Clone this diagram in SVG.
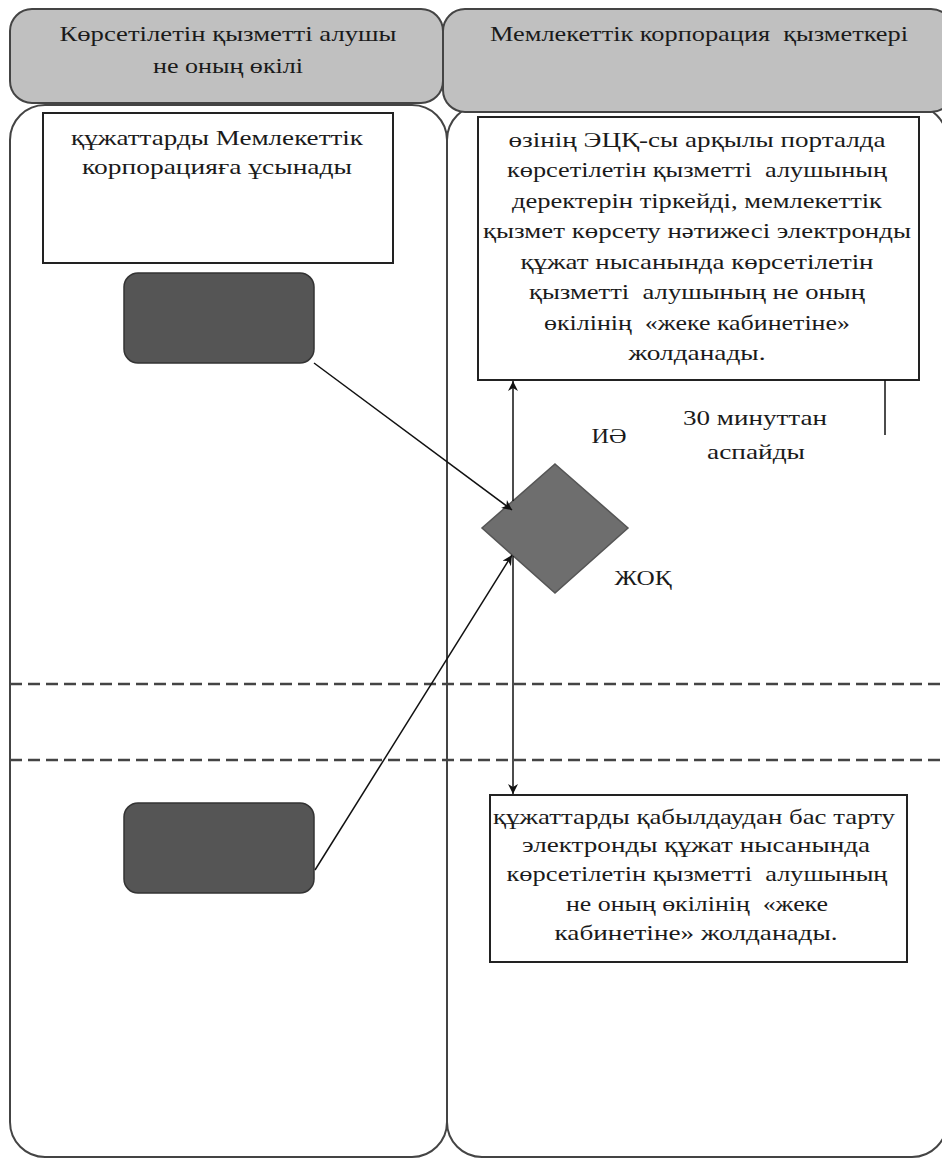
<svg xmlns="http://www.w3.org/2000/svg" width="942" height="1159" viewBox="0 0 942 1159">
<style>
text{font-family:"Liberation Serif","Times New Roman",serif;font-size:22px;fill:#1a1a1a;text-anchor:middle;white-space:pre}
.hdr{fill:#c0c0c0;stroke:#444;stroke-width:2}
.lane{fill:#fff;stroke:#444;stroke-width:2}
.box{fill:#fff;stroke:#222;stroke-width:2}
.dark{fill:#555;stroke:#333;stroke-width:1.5}
.con{stroke:#111;stroke-width:1.5;fill:none}
.dash{stroke:#444;stroke-width:2.5;stroke-dasharray:12 6}
</style>
<defs>
<marker id="ah" viewBox="0 0 10 10" refX="10" refY="5" markerWidth="12" markerHeight="10" orient="auto-start-reverse" markerUnits="userSpaceOnUse">
<path d="M0,0 L10,5 L0,10 L3,5 z" fill="#111"/>
</marker>
</defs>
<g id="lane-left">
<rect class="lane" x="10" y="105" width="437" height="1052" rx="35"/>
</g>
<g id="lane-right">
<rect class="lane" x="447" y="105" width="500" height="1052" rx="35"/>
</g>
<g id="header-left">
<rect class="hdr" x="10" y="9" width="433" height="94" rx="22"/>
<text x="228" y="41" textLength="337" lengthAdjust="spacingAndGlyphs">Көрсетілетін қызметті алушы</text>
<text x="228" y="73" textLength="150" lengthAdjust="spacingAndGlyphs">не оның өкілі</text>
</g>
<g id="header-right">
<rect class="hdr" x="443" y="9" width="510" height="103" rx="22"/>
<text x="699" y="41" textLength="418" lengthAdjust="spacingAndGlyphs" xml:space="preserve">Мемлекеттік корпорация  қызметкері</text>
</g>
<g id="dividers">
<line class="dash" x1="10" y1="684" x2="942" y2="684"/>
<line class="dash" x1="10" y1="760" x2="942" y2="760"/>
</g>
<g id="node-submit">
<rect class="box" x="43" y="113" width="350" height="150"/>
<text x="217" y="145" textLength="292" lengthAdjust="spacingAndGlyphs">құжаттарды Мемлекеттік</text>
<text x="217" y="174" textLength="270" lengthAdjust="spacingAndGlyphs">корпорацияға ұсынады</text>
</g>
<g id="node-start1">
<rect class="dark" x="124" y="273" width="190" height="90" rx="14"/>
</g>
<g id="node-start2">
<rect class="dark" x="124" y="803" width="190" height="90" rx="14"/>
</g>
<g id="node-register">
<rect class="box" x="478" y="117" width="441" height="263"/>
<text x="697" y="147" textLength="377" lengthAdjust="spacingAndGlyphs">өзінің ЭЦҚ-сы арқылы порталда</text>
<text x="697" y="177" textLength="380" lengthAdjust="spacingAndGlyphs" xml:space="preserve">көрсетілетін қызметті  алушының</text>
<text x="697" y="208" textLength="370" lengthAdjust="spacingAndGlyphs">деректерін тіркейді, мемлекеттік</text>
<text x="697" y="238" textLength="428" lengthAdjust="spacingAndGlyphs">қызмет көрсету нәтижесі электронды</text>
<text x="697" y="269" textLength="353" lengthAdjust="spacingAndGlyphs">құжат нысанында көрсетілетін</text>
<text x="697" y="299" textLength="336" lengthAdjust="spacingAndGlyphs" xml:space="preserve">қызметті  алушының не оның</text>
<text x="697" y="330" textLength="306" lengthAdjust="spacingAndGlyphs" xml:space="preserve">өкілінің  «жеке кабинетіне»</text>
<text x="697" y="360" textLength="137" lengthAdjust="spacingAndGlyphs">жолданады.</text>
</g>
<g id="node-decision">
<polygon points="555,464 628,528 555,593 482,528" fill="#6e6e6e" stroke="#555" stroke-width="1.5"/>
</g>
<g id="node-reject">
<rect class="box" x="490" y="795" width="417" height="167"/>
<text x="694" y="824" textLength="402" lengthAdjust="spacingAndGlyphs">құжаттарды қабылдаудан бас тарту</text>
<text x="696" y="852" textLength="348" lengthAdjust="spacingAndGlyphs">электронды құжат нысанында</text>
<text x="697" y="881" textLength="381" lengthAdjust="spacingAndGlyphs" xml:space="preserve">көрсетілетін қызметті  алушының</text>
<text x="697" y="911" textLength="262" lengthAdjust="spacingAndGlyphs" xml:space="preserve">не оның өкілінің  «жеке</text>
<text x="696" y="940" textLength="283" lengthAdjust="spacingAndGlyphs">кабинетіне» жолданады.</text>
</g>
<g id="connectors">
<line class="con" x1="513" y1="501" x2="513" y2="381" marker-end="url(#ah)"/>
<line class="con" x1="513" y1="556" x2="513" y2="794" marker-end="url(#ah)"/>
<line class="con" x1="314" y1="363" x2="512" y2="510" marker-end="url(#ah)"/>
<line class="con" x1="315" y1="870" x2="512" y2="555" marker-end="url(#ah)"/>
<line class="con" x1="885" y1="380" x2="885" y2="435"/>
</g>
<g id="labels">
<text x="609" y="443" textLength="35" lengthAdjust="spacingAndGlyphs">ИӘ</text>
<text x="755" y="425" textLength="144" lengthAdjust="spacingAndGlyphs">30 минуттан</text>
<text x="756" y="459" textLength="98" lengthAdjust="spacingAndGlyphs">аспайды</text>
<text x="643" y="585" textLength="57" lengthAdjust="spacingAndGlyphs">ЖОҚ</text>
</g>
</svg>
